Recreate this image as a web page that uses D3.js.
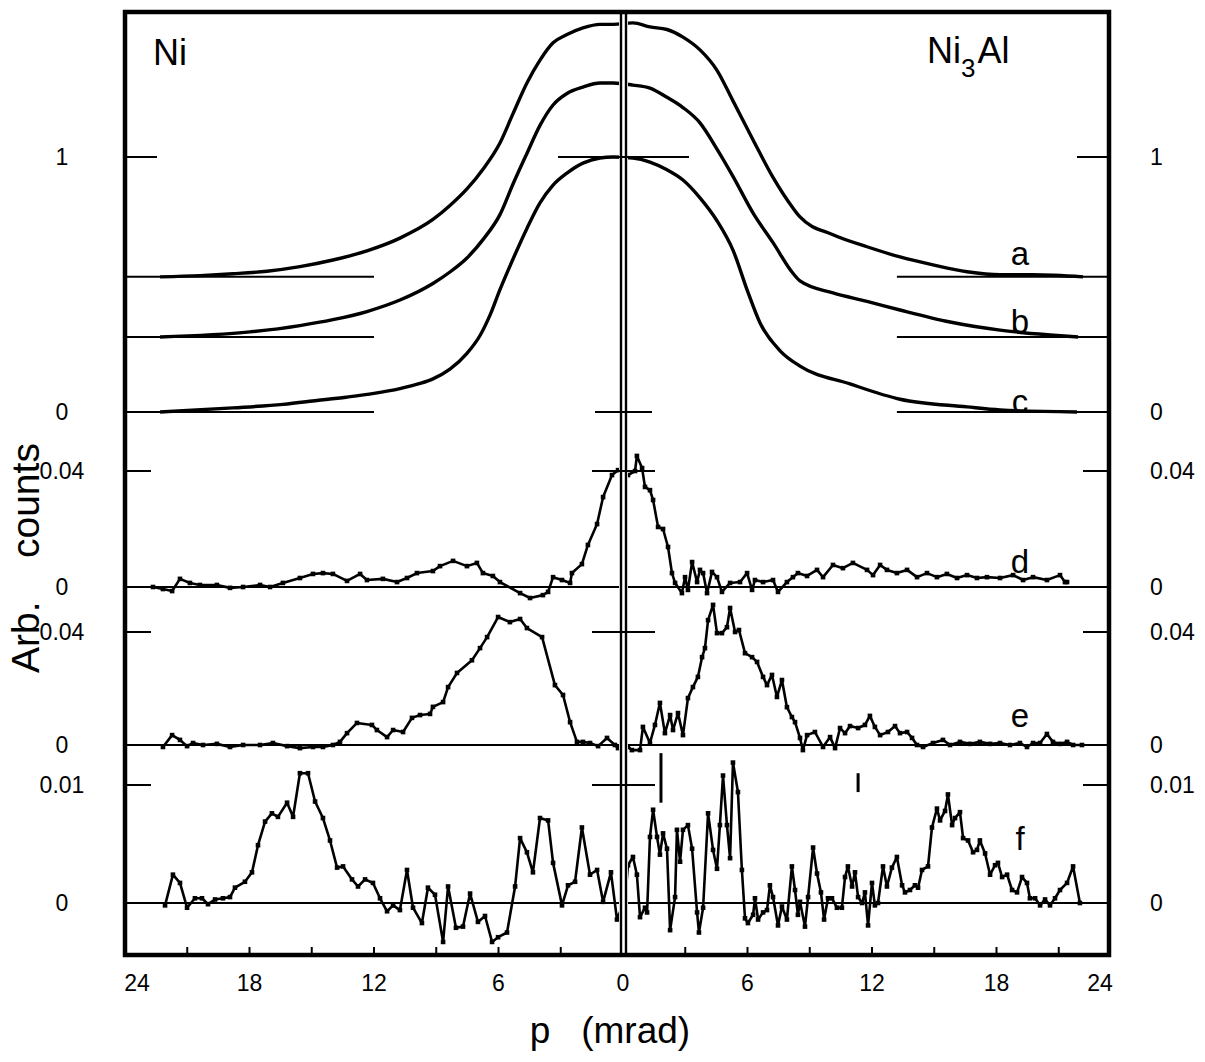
<!DOCTYPE html>
<html><head><meta charset="utf-8">
<script src="https://cdn.jsdelivr.net/npm/d3@7"></script>
<style>
body{margin:0;background:#fff}
text{font-family:"Liberation Sans",Arial,Helvetica,sans-serif;fill:#000}
</style></head>
<body><svg id="chart" width="1205" height="1062"></svg>
<script>
// ---------------- DATA ----------------
// x axis: p (mrad); left half = Ni, right half = Ni3Al
const xTickValues = [-21,-18,-15,-12,-9,-6,-3,3,6,9,12,15,18,21];
const xTickLabels = [-24,-18,-12,-6,0,6,12,18,24];

// top panel: normalised profiles a, b, c (each 0..1, drawn with offsets)
const offsets = {a:0.53, b:0.294, c:0};
const aP = [-22.31,-20.39,-18.8,-17.16,-15.57,-13.98,-12.34,-10.75,-9.16,-8.34,-7.52,-6.72,-5.93,-5.3,-4.63,-4.0,-3.37,-2.7,-1.93,-1.11,-0.48,0.48,1.3,2.12,2.89,3.71,4.53,5.3,6.27,7.23,8.19,8.53,10.12,11.76,13.35,14.94,16.58,18.17,19.76,22.17];
const aV = [0,0.005,0.012,0.022,0.04,0.066,0.102,0.152,0.225,0.28,0.345,0.425,0.525,0.64,0.76,0.85,0.918,0.95,0.976,0.99,0.99,0.996,0.98,0.97,0.94,0.89,0.81,0.69,0.537,0.39,0.27,0.235,0.165,0.118,0.078,0.047,0.02,0.008,0.008,0];
const bP = [-22.31,-17.98,-15.57,-13.98,-12.34,-10.75,-9.16,-8.34,-7.52,-6.72,-5.93,-5.3,-4.63,-4.0,-3.37,-2.7,-1.93,-1.11,-0.48,0.48,1.3,2.12,2.89,3.71,4.53,5.3,6.27,7.23,8.19,8.53,10.12,11.76,13.35,15.76,18.17,20.58,21.93];
const bV = [0,0.02,0.045,0.068,0.1,0.145,0.21,0.255,0.31,0.385,0.48,0.6,0.72,0.83,0.91,0.955,0.98,0.996,0.996,0.988,0.976,0.94,0.9,0.84,0.737,0.63,0.486,0.37,0.25,0.22,0.173,0.14,0.106,0.059,0.027,0.008,0];
const cP = [-22.31,-18.8,-16.39,-14.75,-13.35,-12.0,-10.75,-9.78,-9.16,-8.34,-7.52,-6.89,-6.41,-5.93,-5.3,-4.63,-4.0,-3.37,-2.7,-1.93,-1.11,-0.48,0.48,1.3,2.12,2.89,3.71,4.53,5.3,6.02,6.6,7.57,8.53,10.94,13.35,16.58,18.17,21.88];
const cV = [0,0.016,0.03,0.045,0.058,0.073,0.092,0.112,0.13,0.168,0.23,0.3,0.38,0.48,0.6,0.72,0.82,0.89,0.937,0.976,0.996,1.0,0.996,0.98,0.95,0.91,0.84,0.75,0.635,0.47,0.35,0.24,0.18,0.11,0.05,0.02,0.008,0];

// difference d
const dP = [-22.65,-22.17,-21.73,-21.35,-20.87,-20.39,-19.57,-18.94,-18.31,-17.49,-17.01,-16.39,-15.57,-14.94,-14.46,-13.98,-13.3,-12.67,-12.34,-11.57,-10.89,-10.41,-9.93,-9.16,-8.82,-8.19,-7.52,-7.04,-6.75,-6.27,-5.93,-4.96,-4.48,-3.86,-3.61,-3.37,-2.94,-2.55,-2.46,-1.98,-1.69,-1.25,-0.96,-0.53,-0.24,0.24,0.58,0.67,0.92,1.06,1.3,1.45,1.69,1.93,2.17,2.36,2.51,2.84,2.99,3.13,3.33,3.57,3.71,3.86,4.05,4.29,4.53,4.77,5.16,5.64,5.98,6.22,6.36,6.75,7.23,7.47,7.9,8.19,8.43,8.87,9.35,9.64,10.12,10.6,11.08,11.76,12.05,12.39,12.72,13.2,13.69,14.17,14.65,15.13,15.61,16.1,16.58,17.06,17.54,18.17,18.8,19.28,19.76,20.43,21.06,21.3,21.4];
const dV = [0,-0.0007,-0.0014,0.0028,0.0014,0.0007,0.0007,-0.0003,0,0.0007,0,0.0014,0.0031,0.0045,0.0048,0.0045,0.0021,0.0045,0.0024,0.0028,0.0017,0.0031,0.0048,0.0055,0.0072,0.009,0.0072,0.0083,0.0048,0.0038,0.0017,-0.0021,-0.0038,-0.0028,-0.0017,0.0034,0.0024,0.0014,0.0048,0.0079,0.0145,0.0217,0.031,0.0386,0.0403,0.0386,0.04,0.0452,0.041,0.0345,0.0334,0.03,0.0207,0.02,0.0138,0.0048,0.0014,-0.0021,0.0034,-0.001,0.0086,0.0017,0.0059,0.0048,-0.0021,0.0052,0.0034,-0.0017,0.0014,0.0017,0.0048,-0.001,0.0024,0.0017,0.0024,-0.0017,0.0017,0.0034,0.0048,0.0038,0.0059,0.0034,0.0076,0.0065,0.0083,0.0059,0.0041,0.0076,0.0059,0.0048,0.0059,0.0034,0.0048,0.0034,0.0045,0.0031,0.0041,0.0031,0.0034,0.0031,0.0041,0.0024,0.0034,0.0024,0.0041,0.0017,0.0017];

// difference e
const eP = [-22.17,-21.73,-21.35,-21.01,-20.72,-20.24,-19.57,-18.94,-18.31,-17.49,-16.87,-16.19,-15.57,-14.94,-14.46,-13.98,-13.64,-13.3,-12.82,-12.1,-11.86,-11.37,-11.08,-10.6,-10.17,-9.78,-9.3,-9.16,-8.67,-8.43,-8.0,-7.28,-6.89,-6.55,-6.02,-5.45,-4.96,-4.63,-3.9,-3.28,-2.89,-2.55,-2.22,-1.93,-1.59,-1.2,-0.77,-0.39,-0.24,0.24,0.43,0.82,0.96,1.3,1.54,1.78,2.02,2.27,2.41,2.65,2.89,3.13,3.37,3.61,3.81,3.95,4.1,4.34,4.53,4.77,5.01,5.16,5.4,5.59,5.88,6.22,6.46,6.75,6.94,7.18,7.42,7.66,7.9,8.14,8.29,8.53,8.67,8.87,9.25,9.64,9.98,10.22,10.46,10.7,10.94,11.33,11.66,11.9,12.14,12.39,12.77,13.11,13.35,13.69,13.93,14.17,14.46,14.94,15.42,15.76,16.24,16.72,17.2,17.69,18.17,18.65,19.13,19.47,19.76,20.1,20.43,20.72,21.06,21.4,21.69,22.12];
const eV = [-0.0007,0.0035,0.0018,-0.0004,0.0007,0,0.0004,-0.0007,0,0,0.0007,-0.0004,-0.0011,-0.0007,-0.0007,0,0.0011,0.0042,0.0078,0.0071,0.0053,0.0028,0.0053,0.0046,0.0096,0.0106,0.011,0.0135,0.0152,0.0205,0.0255,0.03,0.0343,0.0382,0.0453,0.0435,0.0446,0.0414,0.0382,0.0212,0.0177,0.0081,0.0011,0.0011,0.0007,-0.0004,0.0025,0,-0.0011,-0.0007,-0.0018,-0.0018,0.0064,0.0007,0.0071,0.0149,0.0042,0.0106,0.0053,0.0113,0.0035,0.0166,0.0205,0.0241,0.0311,0.0343,0.0442,0.0496,0.0396,0.0396,0.0417,0.0485,0.04,0.0407,0.0325,0.0311,0.0294,0.0241,0.0212,0.0248,0.017,0.023,0.0134,0.0099,0.0081,0.0025,-0.0018,0.0035,0.0046,-0.0007,0.0028,-0.0011,0.006,0.0042,0.0067,0.006,0.0071,0.0103,0.0064,0.0035,0.0046,0.0067,0.0042,0.0046,0.0025,0,-0.0007,0.0007,0.0018,0,0.0011,0.0004,0.0011,0.0004,0.0007,0,0.0007,-0.0007,0.0007,0.0007,0.0039,0.0011,0.0004,0.0011,0,0];

// difference f
const fP = [-22.07,-21.69,-21.35,-21.01,-20.63,-20.29,-20.0,-19.66,-19.28,-18.94,-18.7,-18.22,-17.88,-17.59,-17.25,-16.92,-16.63,-16.19,-15.9,-15.57,-15.18,-14.84,-14.46,-14.12,-13.78,-13.49,-13.06,-12.77,-12.43,-12.05,-11.71,-11.37,-11.08,-10.75,-10.41,-10.12,-9.69,-9.4,-9.06,-8.67,-8.43,-8.05,-7.71,-7.37,-6.99,-6.65,-6.31,-6.02,-5.59,-5.2,-4.96,-4.63,-4.34,-4.0,-3.61,-3.37,-2.94,-2.65,-2.31,-1.98,-1.59,-1.25,-0.96,-0.58,-0.29,0.1,0.24,0.48,0.67,0.82,1.06,1.16,1.3,1.45,1.64,1.78,1.93,2.12,2.27,2.51,2.6,2.75,2.89,3.13,3.33,3.57,3.66,3.86,4.1,4.34,4.53,4.67,4.82,5.01,5.16,5.3,5.54,5.73,5.88,6.02,6.27,6.36,6.51,6.75,6.94,7.08,7.23,7.47,7.66,7.9,8.14,8.29,8.43,8.53,8.77,8.92,9.16,9.35,9.54,9.69,9.88,10.07,10.31,10.55,10.7,10.84,11.04,11.18,11.33,11.52,11.66,11.81,12.0,12.14,12.29,12.53,12.72,12.96,13.2,13.45,13.59,13.83,14.07,14.22,14.41,14.7,14.89,15.13,15.28,15.52,15.66,15.86,16.0,16.24,16.39,16.63,16.87,17.06,17.2,17.45,17.69,17.93,18.07,18.27,18.51,18.75,18.99,19.23,19.47,19.61,19.86,20.1,20.34,20.58,20.82,21.06,21.4,21.69,22.02];
const fV = [-0.0002,0.0024,0.0017,-0.0004,0.0004,0.0004,-0.0001,0.0003,0.0004,0.0005,0.0013,0.0018,0.0026,0.0049,0.0069,0.0076,0.0073,0.0085,0.0073,0.011,0.011,0.0086,0.0072,0.0053,0.003,0.0031,0.002,0.0014,0.002,0.0017,0.0004,-0.0007,-0.0002,-0.0006,0.0028,-0.0004,-0.0017,0.0013,0.0007,-0.0033,0.0014,-0.0021,-0.002,0.0008,-0.0016,-0.0011,-0.0033,-0.0029,-0.0025,0.0014,0.0055,0.0043,0.0026,0.0072,0.007,0.0034,-0.0002,0.0015,0.0018,0.0064,0.0024,0.0028,0.0001,0.0026,-0.0014,0.0003,0.0032,0.0039,0.0024,-0.0012,-0.0004,-0.0008,0.0056,0.0079,0.0056,0.0041,0.0059,0.0046,-0.0023,0.0005,0.0062,0.0035,0.0062,0.0066,0.0046,-0.0008,-0.0025,-0.0004,0.0076,0.0045,0.0029,0.0066,0.0108,0.0066,0.0038,0.0119,0.0094,0.0028,-0.0013,-0.0017,-0.001,0.0004,-0.0014,-0.0008,-0.0006,0.0015,0.0005,-0.0019,-0.0003,-0.0014,0.0031,0.0011,-0.001,0.0001,-0.002,0.0005,0.0047,0.0025,0.0009,-0.0014,0.0004,0.0004,-0.0004,-0.0004,0.0022,0.0031,0.0014,0.0026,0.0005,0,0.0009,-0.0019,0.0017,-0.0002,0,0.0031,0.0014,0.003,0.0039,0.0015,0.0009,0.0011,0.0015,0.0013,0.0028,0.0031,0.0064,0.008,0.007,0.0078,0.0092,0.0066,0.0072,0.0077,0.0055,0.0053,0.0043,0.0045,0.0053,0.0042,0.0024,0.0032,0.0034,0.0022,0.0024,0.0011,0.0009,0.0022,0.0017,0.0004,0.0004,-0.0002,0.0003,-0.0002,0.0004,0.0011,0.0017,0.0031,0];
// short vertical marks in panel f (p, low, high)
const fMarksP = [1.83, 11.33];
const fMarksLo = [0.0085, 0.0094];
const fMarksHi = [0.0127, 0.011];

// ---------------- DRAWING ----------------
const svg = d3.select("#chart");
const frame = {l:125, r:1109, t:12, b:955};
const x = d3.scaleLinear().domain([-24,24]).range([125,1121]);
const yTop = d3.scaleLinear().domain([0,1]).range([412,157]);
const yD = d3.scaleLinear().domain([0,0.04]).range([587,471]);
const yE = d3.scaleLinear().domain([0,0.04]).range([745,632]);
const yF = d3.scaleLinear().domain([0,0.01]).range([903,785]);

const g = svg.append("g");

// top-panel baselines (partial)
[offsets.a, offsets.b, offsets.c].forEach(o=>{
  g.append("line").attr("x1",frame.l).attr("x2",x(-12)).attr("y1",yTop(o)).attr("y2",yTop(o)).attr("stroke","#000").attr("stroke-width",2);
  g.append("line").attr("x1",x(13.2)).attr("x2",frame.r).attr("y1",yTop(o)).attr("y2",yTop(o)).attr("stroke","#000").attr("stroke-width",2);
});
// difference-panel baselines (full)
[yD(0), yE(0), yF(0)].forEach(yy=>{
  g.append("line").attr("x1",frame.l).attr("x2",frame.r).attr("y1",yy).attr("y2",yy).attr("stroke","#000").attr("stroke-width",2);
});

// top curves
function drawTop(P,V,off){
  const data = P.map((p,i)=>[p,V[i]]);
  const ln = d3.line().x(d=>x(d[0])).y(d=>yTop(d[1]+off)).curve(d3.curveMonotoneX);
  g.append("path").datum(data).attr("d",ln).attr("fill","none").attr("stroke","#000").attr("stroke-width",3.4).attr("stroke-linejoin","round");
}
drawTop(aP,aV,offsets.a);
drawTop(bP,bV,offsets.b);
drawTop(cP,cV,offsets.c);

// difference curves with small square markers
function drawDiff(P,V,ys){
  const data = P.map((p,i)=>[p,V[i]]);
  const ln = d3.line().x(d=>x(d[0])).y(d=>ys(d[1]));
  g.append("path").datum(data).attr("d",ln).attr("fill","none").attr("stroke","#000").attr("stroke-width",2.6).attr("stroke-linejoin","round");
  g.selectAll(null).data(data).enter().append("rect")
    .attr("x",d=>x(d[0])-2.3).attr("y",d=>ys(d[1])-2.3).attr("width",4.6).attr("height",4.6).attr("fill","#000");
}
drawDiff(dP,dV,yD);
drawDiff(eP,eV,yE);
drawDiff(fP,fV,yF);

// vertical marks in f
fMarksP.forEach((p,i)=>{
  g.append("line").attr("x1",x(p)).attr("x2",x(p)).attr("y1",yF(fMarksLo[i])).attr("y2",yF(fMarksHi[i])).attr("stroke","#000").attr("stroke-width",3);
});

// center double line (with white gap)
const cx = x(0);
g.append("rect").attr("x",cx-4).attr("y",frame.t).attr("width",9).attr("height",frame.b-frame.t).attr("fill","#fff");
[cx-2, cx+3].forEach(xx=>{
  g.append("line").attr("x1",xx).attr("x2",xx).attr("y1",frame.t).attr("y2",frame.b).attr("stroke","#000").attr("stroke-width",2.4);
});
// center ticks
const centerTicks = [[yTop(1),65],[yTop(0),28],[yD(0.04),31],[yE(0.04),31],[yF(0.01),31]];
centerTicks.forEach(([yy,len])=>{
  g.append("line").attr("x1",cx-len).attr("x2",cx+len+1).attr("y1",yy).attr("y2",yy).attr("stroke","#000").attr("stroke-width",2);
});

// side ticks
const sideTicks = [[yTop(1),32],[yD(0.04),26],[yE(0.04),26],[yF(0.01),26]];
sideTicks.forEach(([yy,len])=>{
  g.append("line").attr("x1",frame.l).attr("x2",frame.l+len).attr("y1",yy).attr("y2",yy).attr("stroke","#000").attr("stroke-width",2);
  g.append("line").attr("x1",frame.r-len).attr("x2",frame.r).attr("y1",yy).attr("y2",yy).attr("stroke","#000").attr("stroke-width",2);
});

// bottom ticks
xTickValues.forEach(v=>{
  g.append("line").attr("x1",x(v)).attr("x2",x(v)).attr("y1",frame.b).attr("y2",frame.b-8).attr("stroke","#000").attr("stroke-width",2);
});

// frame
g.append("rect").attr("x",frame.l).attr("y",frame.t).attr("width",frame.r-frame.l).attr("height",frame.b-frame.t)
  .attr("fill","none").attr("stroke","#000").attr("stroke-width",4.5);

// y labels (outside the frame on both sides)
const yLabels = [[yTop(1),"1"],[yTop(0),"0"],[yD(0.04),"0.04"],[yD(0),"0"],[yE(0.04),"0.04"],[yE(0),"0"],[yF(0.01),"0.01"],[yF(0),"0"]];
yLabels.forEach(([yy,t])=>{
  svg.append("text").attr("x",62).attr("y",yy+8).attr("text-anchor","middle").attr("font-size",23).text(t);
  svg.append("text").attr("x",1150).attr("y",yy+8).attr("text-anchor","start").attr("font-size",23).text(t);
});

// x labels
xTickLabels.forEach(v=>{
  let px = x(v);
  if (v===-24) px = frame.l+12;
  if (v===24) px = frame.r-9;
  svg.append("text").attr("x",px).attr("y",991).attr("text-anchor","middle").attr("font-size",23).text(Math.abs(v));
});

// axis titles
svg.append("text").attr("transform","translate(39,558) rotate(-90)").attr("text-anchor","middle").attr("font-size",39)
  .style("white-space","pre").text("Arb.    counts");
svg.append("text").attr("x",610).attr("y",1043).attr("text-anchor","middle").attr("font-size",37)
  .style("white-space","pre").text("p   (mrad)");

// material labels
svg.append("text").attr("x",153).attr("y",65).attr("font-size",36).text("Ni");
const ni3 = svg.append("text").attr("x",927).attr("y",63).attr("font-size",36);
ni3.append("tspan").text("Ni");
ni3.append("tspan").attr("font-size",26).attr("dy",14).text("3");
ni3.append("tspan").attr("dy",-14).attr("dx",2).text("Al");

// curve labels
const curveLabels = [["a",yTop(offsets.a)-12],["b",yTop(offsets.b)-4],["c",yTop(0)+1],["d",yD(0)-14],["e",yE(0)-18],["f",yF(0)-53]];
curveLabels.forEach(([t,yy])=>{
  svg.append("text").attr("x",1020).attr("y",yy).attr("text-anchor","middle").attr("font-size",33).text(t);
});
</script></body></html>
